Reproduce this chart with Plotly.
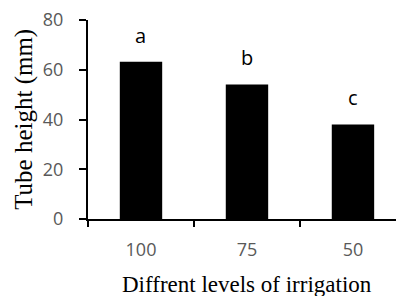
import plotly.graph_objects as go

categories = ["100", "75", "50"]
tube_height = [63.2, 54.1, 38.0]
letters = ["a", "b", "c"]
y_ticks = [0, 20, 40, 60, 80]

fig = go.Figure()
fig.add_trace(go.Bar(
    x=categories, y=tube_height, width=0.4,
    marker=dict(color="#000000", line=dict(width=0)),
    showlegend=False, hoverinfo="skip",
))

for i, (v, t) in enumerate(zip(tube_height, letters)):
    fig.add_annotation(
        x=i, y=v, text=t, showarrow=False, xanchor="center", yanchor="bottom",
        yshift=11, font=dict(family="Open Sans", size=20, color="#000000"),
    )

fig.add_annotation(
    xref="paper", yref="paper", x=-0.21, y=0.5, text="Tube height (mm)",
    textangle=-90, showarrow=False, xanchor="center", yanchor="middle",
    font=dict(family="Liberation Serif", size=25, color="#000000"),
)
fig.add_annotation(
    xref="paper", yref="paper", x=0.5178, y=-0.33, text="Diffrent levels of irrigation",
    showarrow=False, xanchor="center", yanchor="middle",
    font=dict(family="Liberation Serif", size=23, color="#000000"),
)

fig.update_layout(
    template="none",
    width=396, height=296,
    margin=dict(l=88, r=0, t=20, b=77, pad=0),
    paper_bgcolor="#ffffff", plot_bgcolor="#ffffff",
    bargap=0.6,
    xaxis=dict(
        type="category", automargin=False,
        range=[-0.5, 2.406], showgrid=False, zeroline=False,
        showline=True, linecolor="#000000", linewidth=2,
        ticks="outside", tickson="boundaries", ticklen=6, tickwidth=1.5, tickcolor="#000000",
        tickfont=dict(family="Open Sans", size=18, color="#595959"),
        ticklabelstandoff=13,
    ),
    yaxis=dict(
        automargin=False,
        range=[0, 80], tickvals=y_ticks, showgrid=False, zeroline=False,
        showline=True, linecolor="#000000", linewidth=2,
        ticks="outside", ticklen=7, tickwidth=1.5, tickcolor="#000000",
        tickfont=dict(family="Open Sans", size=18, color="#595959"),
        ticklabelstandoff=12,
    ),
)

fig.write_html(
    "out.html",
    config={"displayModeBar": False},
    post_script="document.body.style.margin='0';document.body.style.overflow='hidden';",
)
